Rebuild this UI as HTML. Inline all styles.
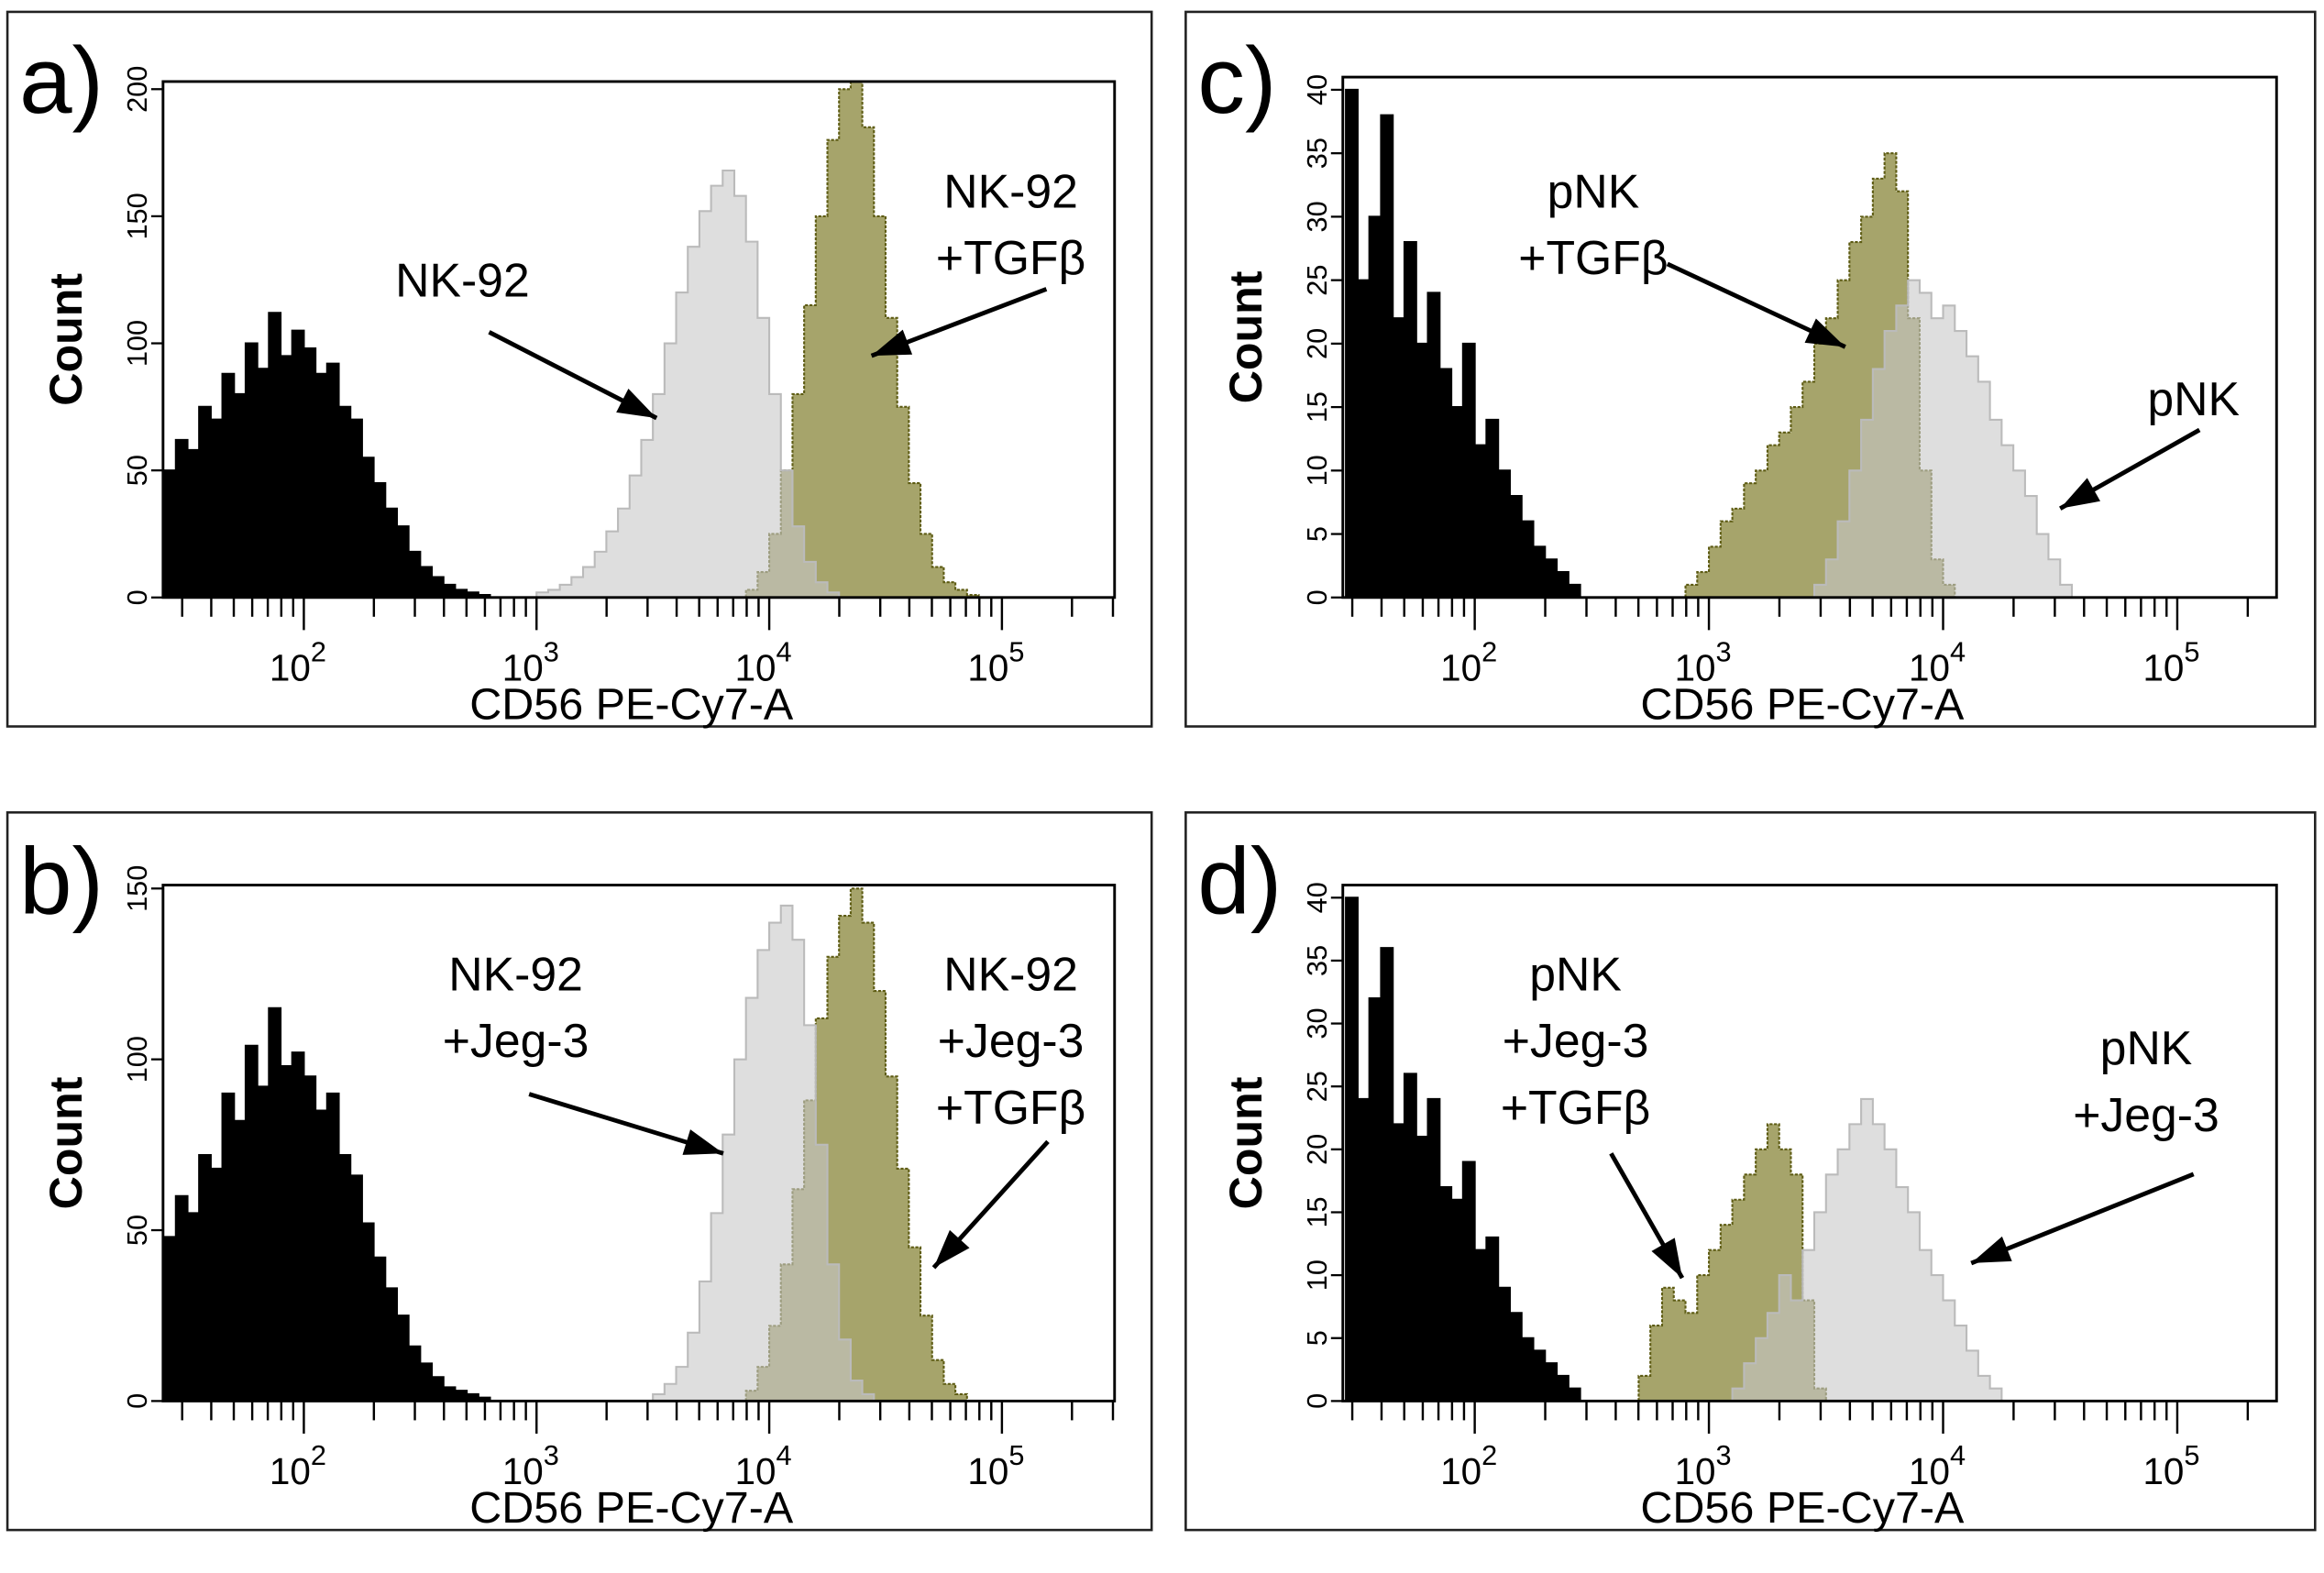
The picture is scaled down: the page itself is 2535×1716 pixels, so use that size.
<!DOCTYPE html>
<html><head><meta charset="utf-8"><style>
html,body{margin:0;padding:0;background:#fff;}
svg{display:block;}
text{font-family:"Liberation Sans",sans-serif;}
</style></head><body>
<svg id="fig" width="2535" height="1716" viewBox="0 0 1568 1061" preserveAspectRatio="none" xmlns="http://www.w3.org/2000/svg"></svg>
<script>
// ---- data (counts per 0.05-decade log bin) ----
const binStep = 0.05;
const blackA = [50,62,58,75,70,88,80,100,90,112,95,105,98,88,92,75,70,55,45,35,28,18,12,8,5,3,2,1,0];
const blackAStart = 1.40;
const grayA = [2,3,5,8,12,18,26,35,48,62,80,100,120,138,152,162,168,158,140,110,80,50,28,14,6,2,0];
const grayAStart = 3.00;
const oliveA = [3,10,25,50,80,115,150,180,200,205,185,150,110,75,45,25,12,6,3,1,0];
const oliveAStart = 3.90;

const blackB = [48,60,55,72,68,90,82,104,92,115,98,102,95,85,90,72,66,52,42,33,25,16,11,7,4,3,2,1,0];
const blackBStart = 1.40;
const grayB = [2,5,10,20,35,55,78,100,118,132,140,145,135,110,75,40,18,6,2,0];
const grayBStart = 3.50;
const oliveB = [3,10,22,40,62,88,112,130,142,150,140,120,95,68,45,25,12,5,2,0];
const oliveBStart = 3.90;

const blackC = [40,25,30,38,22,28,20,24,18,15,20,12,14,10,8,6,4,3,2,1,0];
const blackCStart = 1.45;
const oliveC = [1,2,4,6,7,9,10,12,13,15,17,20,22,25,28,30,33,35,32,22,10,3,1,0];
const oliveCStart = 2.90;
const grayC = [1,3,6,10,14,18,21,23,25,24,22,23,21,19,17,14,12,10,8,5,3,1,0];
const grayCStart = 3.45;

const blackD = [40,24,32,36,22,26,21,24,17,16,19,12,13,9,7,5,4,3,2,1,0];
const blackDStart = 1.45;
const oliveD = [2,6,9,8,7,10,12,14,16,18,20,22,20,18,8,1,0];
const oliveDStart = 2.70;
const grayD = [1,3,5,7,10,8,12,15,18,20,22,24,22,20,17,15,12,10,8,6,4,2,1,0];
const grayDStart = 3.10;

const yTicksAB_a = [0,50,100,150,200];
const yTicksAB_b = [0,50,100,150];
const yTicksCD = [0,5,10,15,20,25,30,35,40];
const decades = [2,3,4,5];

const NS = "http://www.w3.org/2000/svg";
const svg = document.getElementById('fig');
function mk(tag, attrs, parent){
  const e = document.createElementNS(NS, tag);
  for (const k in attrs) e.setAttribute(k, attrs[k]);
  (parent||svg).appendChild(e);
  return e;
}

function panel(p){
  const g = mk('g', {});
  
  
  const outer = mk('rect', {x:p.ox, y:p.oy, width:p.ow, height:p.oh, fill:'#fff', stroke:'#222', 'stroke-width':1.6}, g);
  
  
  const lbl = mk('text', {x:p.ox+8, y:p.oy+68, 'font-size':64}, g);
  lbl.textContent = p.id + ')';
  
  

  const xs = v => p.x0 + (v - p.logMin) * p.dec;
  const ys = c => p.y1 - c / p.yMax * (p.y1 - p.y0);

  const clip = 'clip' + p.id;
  const cp = mk('clipPath', {id:clip}, g);
  mk('rect', {x:p.x0, y:p.y0, width:p.x1-p.x0, height:p.y1-p.y0}, cp);
  const plot = mk('g', {'clip-path':'url(#'+clip+')'}, g);

  function hist(vals, start, fill, stroke, dash, name, op){
    let d = 'M' + xs(start) + ',' + ys(0);
    vals.forEach((v,i) => {
      const xa = xs(start + i*binStep), xb = xs(start + (i+1)*binStep);
      d += ' L' + xa + ',' + ys(v) + ' L' + xb + ',' + ys(v);
    });
    d += ' L' + xs(start + vals.length*binStep) + ',' + ys(0) + ' Z';
    const h = mk('path', {d:d, fill:fill, 'fill-opacity':op, stroke:stroke, 'stroke-width':1.3, 'stroke-dasharray':dash}, plot);
    
    
  }
  hist(p.black, p.blackStart, '#000', '#000', 'none', 'isotype-histogram', 1);
  hist(p.olive, p.oliveStart, '#a6a46b', '#5e5c14', '2,1', 'tgfb-histogram', 1);
  hist(p.gray, p.grayStart, '#c8c8c8', '#bbbbbb', 'none', 'control-histogram', 0.6);

  const frame = mk('rect', {x:p.x0, y:p.y0, width:p.x1-p.x0, height:p.y1-p.y0, fill:'none', stroke:'#000', 'stroke-width':1.8}, g);
  
  

  for (let dcd = 1; dcd <= 5; dcd++){
    for (let m = 1; m <= 9; m++){
      const lv = dcd + Math.log10(m);
      if (lv < p.logMin || lv > p.logMax) continue;
      const x = xs(lv);
      mk('line', {x1:x, y1:p.y1, x2:x, y2:p.y1 + (m===1 ? 22 : 13), stroke:'#000', 'stroke-width':1.5}, g);
    }
  }
  decades.forEach(dc => {
    const t = mk('text', {x:xs(dc)-4, y:p.y1+56, 'font-size':25, 'text-anchor':'middle'}, g);
    t.textContent = '10';
    const s = mk('tspan', {dy:-13, 'font-size':19}, t);
    s.textContent = dc;
    
    
  });
  p.yTicks.forEach(v => {
    const y = ys(v);
    mk('line', {x1:p.x0-8, y1:y, x2:p.x0, y2:y, stroke:'#000', 'stroke-width':1.4}, g);
    const t = mk('text', {x:0, y:0, 'font-size':19, 'text-anchor':'middle', transform:'translate('+(p.x0-11)+','+y+') rotate(-90)'}, g);
    t.textContent = v;
    
    
  });
  const xt = mk('text', {x:(p.x0+p.x1)/2 - 5, y:p.y1+82, 'font-size':30, 'text-anchor':'middle'}, g);
  xt.textContent = 'CD56 PE-Cy7-A';
  
  
  const yt = mk('text', {x:0, y:0, 'font-size':31, 'font-weight':'bold', 'text-anchor':'middle', transform:'translate('+(p.x0-55)+','+((p.y0+p.y1)/2)+') rotate(-90)'}, g);
  yt.textContent = 'Count';
  
  

  p.labels.forEach(L => {
    L.lines.forEach((s,i) => {
      const t = mk('text', {x:L.x, y:L.y + i*45, 'font-size':32, 'text-anchor':'middle'}, g);
      t.textContent = s;
      
      
    });
    const [x1,y1,x2,y2] = L.arrow;
    mk('line', {x1:x1, y1:y1, x2:x2, y2:y2, stroke:'#000', 'stroke-width':3}, g);
    const ang = Math.atan2(y2-y1, x2-x1), len = 26, w = 9;
    const bx = x2 - len*Math.cos(ang), by = y2 - len*Math.sin(ang);
    const ax = bx + w*Math.sin(ang), ay = by - w*Math.cos(ang);
    const cx = bx - w*Math.sin(ang), cy = by + w*Math.cos(ang);
    const ah = mk('polygon', {points:x2+','+y2+' '+ax+','+ay+' '+cx+','+cy, fill:'#000'}, g);
    
    
  });
}

const left = {ox:5, ow:772, x0:110, x1:752, logMin:2-95/157, logMax:5.48, dec:157};
const right = {ox:800, ow:762, x0:906, x1:1536, logMin:2-89/158, logMax:5.42, dec:158};

panel(Object.assign({}, left, {id:'a', oy:8, oh:482, y0:55, y1:403, yMax:203, yTicks:yTicksAB_a,
  black:blackA, blackStart:blackAStart, gray:grayA, grayStart:grayAStart, olive:oliveA, oliveStart:oliveAStart,
  labels:[{x:312, y:200, lines:['NK-92'], arrow:[330,224,443,282]},
          {x:682, y:140, lines:['NK-92','+TGFβ'], arrow:[706,195,588,240]}]}));
panel(Object.assign({}, left, {id:'b', oy:548, oh:484, y0:597, y1:945, yMax:151, yTicks:yTicksAB_b,
  black:blackB, blackStart:blackBStart, gray:grayB, grayStart:grayBStart, olive:oliveB, oliveStart:oliveBStart,
  labels:[{x:348, y:668, lines:['NK-92','+Jeg-3'], arrow:[357,738,488,778]},
          {x:682, y:668, lines:['NK-92','+Jeg-3','+TGFβ'], arrow:[707,770,630,855]}]}));
panel(Object.assign({}, right, {id:'c', oy:8, oh:482, y0:52, y1:403, yMax:41, yTicks:yTicksCD,
  black:blackC, blackStart:blackCStart, gray:grayC, grayStart:grayCStart, olive:oliveC, oliveStart:oliveCStart,
  labels:[{x:1075, y:140, lines:['pNK','+TGFβ'], arrow:[1125,178,1245,234]},
          {x:1480, y:280, lines:['pNK'], arrow:[1484,290,1390,343]}]}));
panel(Object.assign({}, right, {id:'d', oy:548, oh:484, y0:597, y1:945, yMax:41, yTicks:yTicksCD,
  black:blackD, blackStart:blackDStart, gray:grayD, grayStart:grayDStart, olive:oliveD, oliveStart:oliveDStart,
  labels:[{x:1063, y:668, lines:['pNK','+Jeg-3','+TGFβ'], arrow:[1087,778,1135,862]},
          {x:1448, y:718, lines:['pNK','+Jeg-3'], arrow:[1480,792,1330,852]}]}));
</script>
</body></html>
